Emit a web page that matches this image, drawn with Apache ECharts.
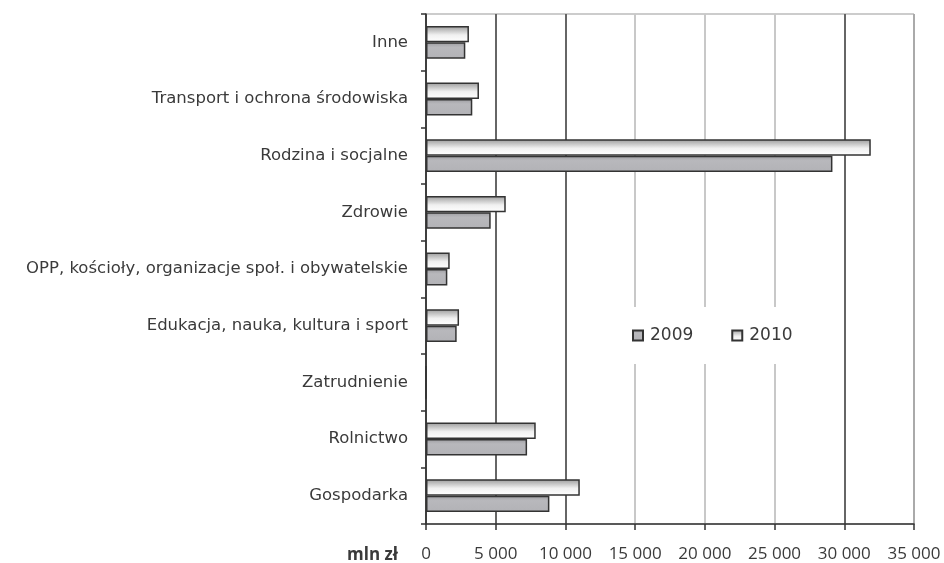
<!DOCTYPE html>
<html>
<head>
<meta charset="utf-8">
<script src="https://cdn.jsdelivr.net/npm/echarts@6/dist/echarts.min.js"></script>
<style>html,body{margin:0;padding:0;background:#fff}#c{width:944px;height:563px}</style>
</head>
<body>
<div id="c"></div>
<script>
// categories listed bottom -> top
var categories = ['Gospodarka', 'Rolnictwo', 'Zatrudnienie', 'Edukacja, nauka, kultura i sport',
  'OPP, kościoły, organizacje społ. i obywatelskie', 'Zdrowie', 'Rodzina i socjalne',
  'Transport i ochrona środowiska', 'Inne'];
var values2009 = [8850, 7250, 0, 2200, 1530, 4640, 29150, 3320, 2820];
var values2010 = [11030, 7870, 0, 2370, 1700, 5720, 31900, 3800, 3080];
var seriesNames = ['2009', '2010'];

function fmt(v) { return String(v).replace(/\B(?=(\d{3})+(?!\d))/g, ' '); }

var chart = echarts.init(document.getElementById('c'), null, {renderer: 'canvas'});
var font = 'Open Sans';
var yfont = 'DejaVu Sans';
chart.setOption({
  animation: false,
  backgroundColor: '#fff',
  grid: {left: 426, right: 30, top: 14, bottom: 38, show: true, borderColor: '#999', borderWidth: 1, backgroundColor: 'transparent'},
  legend: {
    data: seriesNames,
    left: 622, top: 307,
    backgroundColor: '#fff',
    padding: [20, 12, 20, 10],
    itemGap: 38,
    itemWidth: 10, itemHeight: 10,
    icon: 'rect',
    textStyle: {fontFamily: yfont, fontSize: 17, color: '#3a3a3a', padding: [0, 0, 0, 2]}
  },
  xAxis: {
    type: 'value', min: 0, max: 35000, interval: 5000,
    axisLine: {show: true, lineStyle: {color: '#333', width: 1.5}},
    axisTick: {show: true, length: 6, lineStyle: {color: '#333', width: 1.5}},
    axisLabel: {margin: 22, fontFamily: font, fontSize: 17, color: '#3a3a3a', formatter: fmt},
    splitLine: {show: true, lineStyle: {width: 2, color: ['#666', '#666', '#666', '#c8c8c8', '#c8c8c8', '#c8c8c8', '#666', '#aaa']}}
  },
  yAxis: {
    type: 'category', data: categories,
    axisLine: {show: true, lineStyle: {color: '#333', width: 1.5}},
    axisTick: {show: true, length: 5, lineStyle: {color: '#333', width: 1.5}},
    axisLabel: {margin: 18, fontFamily: yfont, fontSize: 16.5, color: '#3a3a3a'}
  },
  graphic: [{type: 'text', left: 347, top: 547, style: {text: 'mln zł', fontFamily: font, fontSize: 17, fontWeight: 'bold', fill: '#3a3a3a'}}],
  series: [
    {
      name: '2010', type: 'bar', data: values2010, barGap: '0%', barCategoryGap: '42%',
      itemStyle: {
        borderColor: '#333', borderWidth: 1.5,
        color: {type: 'linear', x: 0, y: 0, x2: 0, y2: 1, colorStops: [
          {offset: 0, color: '#9a9a9a'}, {offset: 0.55, color: '#f0f0f0'}, {offset: 1, color: '#ffffff'}]}
      }
    },
    {
      name: '2009', type: 'bar', data: values2009,
      itemStyle: {
        borderColor: '#333', borderWidth: 1.5,
        color: {type: 'linear', x: 0, y: 0, x2: 0, y2: 1, colorStops: [
          {offset: 0, color: '#9c9ca0'}, {offset: 0.3, color: '#b8b8bc'}, {offset: 1, color: '#b2b2b6'}]}
      }
    }
  ]
});
</script>
</body>
</html>
